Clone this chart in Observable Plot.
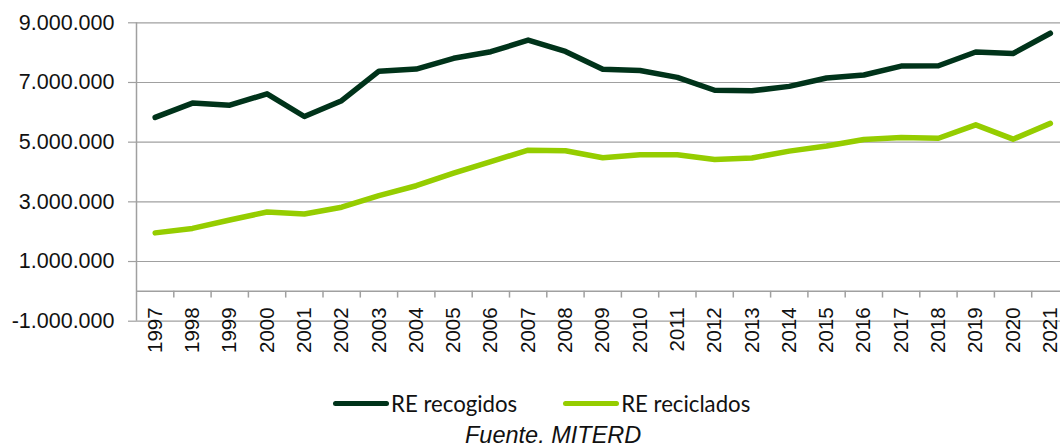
<!DOCTYPE html>
<html>
<head>
<meta charset="utf-8">
<script src="https://cdn.jsdelivr.net/npm/d3@7"></script>
<script src="https://cdn.jsdelivr.net/npm/@observablehq/plot@0.6"></script>
<style>
  html, body { margin: 0; padding: 0; background: #fff; }
  #wrap { position: relative; width: 1060px; height: 448px; overflow: hidden; background: #fff; }
  #chart { position: absolute; left: 0; top: 0; }
  .legend { position: absolute; left: 333px; top: 390px; display: flex; align-items: center;
            font-family: Lato, "Noto Sans", sans-serif; font-size: 22.2px; color: #111; }
  .item { display: flex; align-items: center; }
  .sw { display: inline-block; width: 56px; height: 5px; border-radius: 3px; margin-right: 2px; }
  .caption { position: absolute; left: 465px; top: 422px; font-family: "Liberation Sans", Arial, sans-serif;
             font-style: italic; font-size: 23.5px; color: #111; white-space: nowrap; }
</style>
</head>
<body>
<div id="wrap">
  <div id="chart"></div>
  <div class="legend" id="legend"></div>
  <div class="caption" id="caption"></div>
</div>
<script>
const years = [1997,1998,1999,2000,2001,2002,2003,2004,2005,2006,2007,2008,2009,2010,2011,2012,2013,2014,2015,2016,2017,2018,2019,2020,2021];
const recogidos = [5830000,6310000,6240000,6620000,5860000,6390000,7380000,7450000,7810000,8030000,8420000,8040000,7440000,7400000,7170000,6740000,6720000,6870000,7150000,7250000,7550000,7560000,8020000,7970000,8650000];
const reciclados = [1960000,2110000,2390000,2660000,2590000,2820000,3210000,3540000,3960000,4350000,4730000,4710000,4480000,4580000,4580000,4420000,4470000,4700000,4870000,5090000,5160000,5130000,5580000,5100000,5630000];
const seriesNames = ["RE recogidos", "RE reciclados"];
const seriesColors = ["#00331a", "#95cd00"];
const yTicks = [-1000000, 1000000, 3000000, 5000000, 7000000, 9000000];
const captionText = "Fuente. MITERD";

const boundaries = years.map(y => y - 0.5).concat([years[years.length - 1] + 0.5]);
const fmt = d3.formatLocale({decimal: ",", thousands: ".", grouping: [3], currency: ["", " €"], minus: "-"}).format(",d");
const gridColor = "#a0a0a0";

const chart = Plot.plot({
  width: 1069,
  height: 380,
  marginLeft: 136,
  marginRight: 0.5,
  marginTop: 22.3,
  marginBottom: 59.3,
  style: {fontFamily: "'Liberation Sans', Arial, sans-serif", fontSize: "21px", color: "#111", maxWidth: "none", overflow: "hidden", background: "#fff"},
  x: {domain: [boundaries[0], boundaries[boundaries.length - 1]], axis: null},
  y: {domain: [-1000000, 9000000], axis: null},
  marks: [
    Plot.gridY(yTicks, {stroke: gridColor, strokeOpacity: 1, strokeWidth: 1.2}),
    Plot.axisY({ticks: yTicks, tickFormat: fmt, tickSize: 8, tickPadding: 14, stroke: gridColor, strokeWidth: 1.2, fontSize: 21.5, fill: "#111", label: null}),
    Plot.ruleX([boundaries[0]], {stroke: gridColor, strokeWidth: 1.5}),
    Plot.ruleY([0], {stroke: gridColor, strokeWidth: 1.5}),
    Plot.ruleX(boundaries.slice(1), {x: d => d, y1: () => 0, y2: () => 0, insetBottom: -6.7, stroke: gridColor, strokeWidth: 1.5}),
    Plot.text(years, {x: d => d, y: () => 0, text: d => String(d), rotate: -90, textAnchor: "end", dy: 16, fontSize: 20.5, fill: "#111"}),
    Plot.lineY(recogidos, {x: (d, i) => years[i], y: d => d, stroke: seriesColors[0], strokeWidth: 5.5, strokeLinejoin: "round", strokeLinecap: "round"}),
    Plot.lineY(reciclados, {x: (d, i) => years[i], y: d => d, stroke: seriesColors[1], strokeWidth: 5.5, strokeLinejoin: "round", strokeLinecap: "round"})
  ]
});
document.getElementById("chart").appendChild(chart);

const legend = document.getElementById("legend");
seriesNames.forEach((name, i) => {
  const item = document.createElement("span");
  item.className = "item";
  if (i > 0) item.style.marginLeft = "46px";
  const sw = document.createElement("span");
  sw.className = "sw";
  sw.style.background = seriesColors[i];
  const t = document.createElement("span");
  t.textContent = name;
  item.appendChild(sw);
  item.appendChild(t);
  legend.appendChild(item);
});
document.getElementById("caption").textContent = captionText;
</script>
</body>
</html>
